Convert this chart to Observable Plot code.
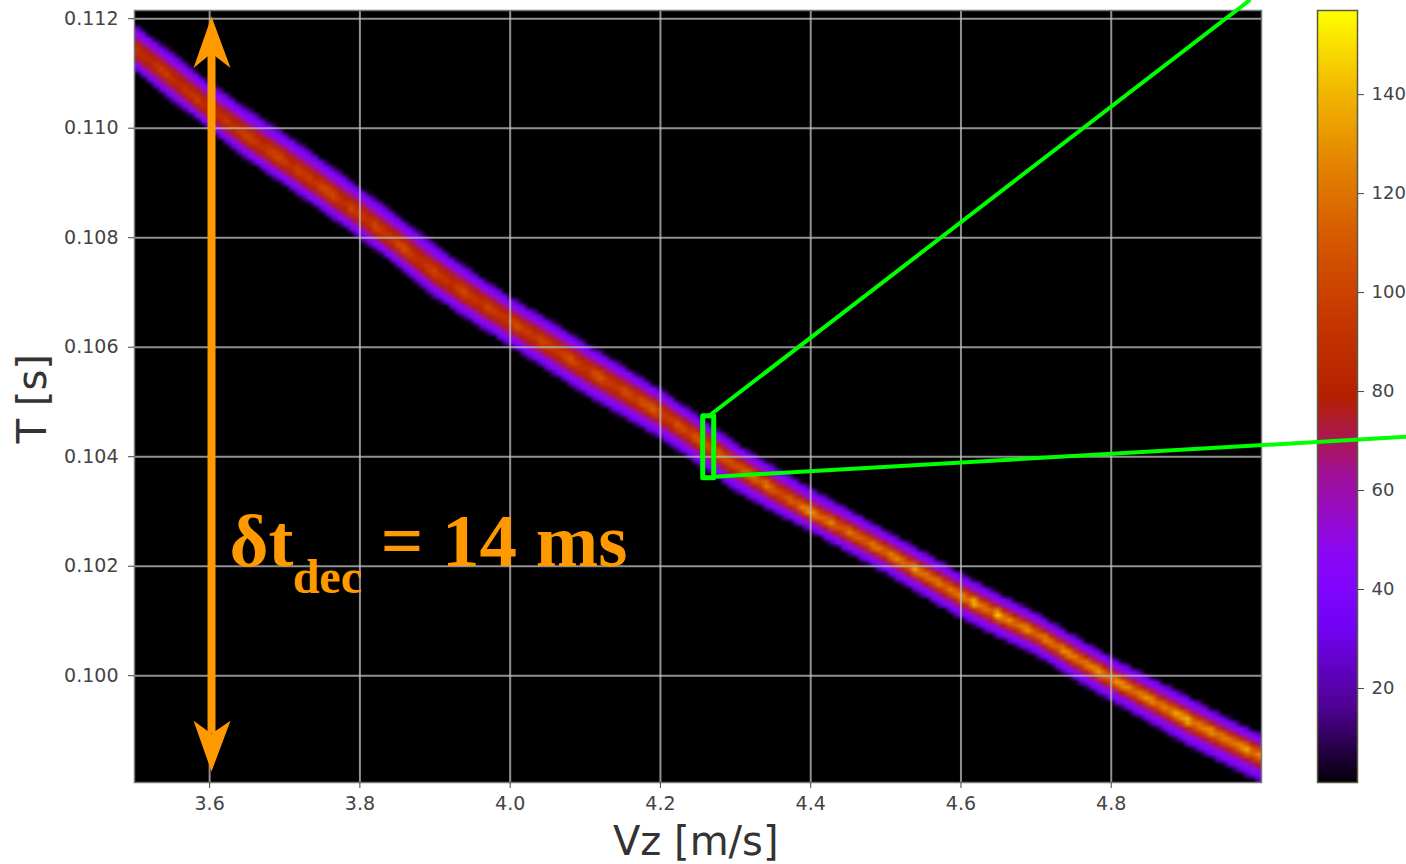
<!DOCTYPE html>
<html><head><meta charset="utf-8">
<style>html,body{margin:0;padding:0;background:#fff}#w{position:relative;width:1406px;height:864px;overflow:hidden}</style>
<script src="https://cdn.jsdelivr.net/npm/d3@7"></script>
<script src="https://cdn.jsdelivr.net/npm/@observablehq/plot@0.6"></script>
</head><body><div id="w"></div>
<script>
const vzTicks=[3.6,3.8,4.0,4.2,4.4,4.6,4.8];
const tTicks=[0.100,0.102,0.104,0.106,0.108,0.110,0.112];
const barTicks=[20,40,60,80,100,120,140];
const colorStops=[0,16.6,32.2,40,47.8,63.4,79,94.6,110.2,125.8,141.4,157];
const colorRange=["#000000","#510196","#7202f3","#8004ff","#8c07f3","#a11096","#b42000","#c63700","#d55700","#e48300","#f2ba00","#ffff00"];
// Ridge of the band, every 0.05 m/s
const vz=[3.5,3.55,3.6,3.65,3.7,3.75,3.8,3.85,3.9,3.95,4.0,4.05,4.1,4.15,4.2,4.25,4.3,4.35,4.4,4.45,4.5,4.55,4.6,4.65,4.7,4.75,4.8,4.85,4.9,4.95,5.0];
const tCenter=[.11145,.11090,.11034,.10984,.10939,.10891,.10842,.10789,.10736,.10690,.10647,.10605,.10561,.10521,.10480,.10433,.10384,.10340,.10298,.10263,.10226,.10186,.10146,.10111,.10077,.10035,.09995,.09958,.09921,.09887,.09854];
const bandAbove=[.00048,.00051,.00053,.00055,.00055,.00055,.00053,.00055,.00055,.00051,.00048,.00050,.00050,.00048,.00046,.00046,.00044,.00046,.00048,.00044,.00042,.00044,.00044,.00042,.00041,.00042,.00042,.00044,.00046,.00042,.00041];
const bandBelow=[.00041,.00042,.00039,.00044,.00046,.00046,.00046,.00044,.00048,.00048,.00048,.00050,.00051,.00051,.00050,.00050,.00050,.00044,.00037,.00041,.00042,.00044,.00044,.00044,.00042,.00044,.00044,.00046,.00050,.00051,.00053];
// Counts on the ridge, one value per 0.01 m/s from 3.50 to 5.00
const peakStep=0.01;
const peak=[96,92,88,94,100,92,88,96,102,94,
90,94,98,92,96,104,98,92,100,106,
98,92,104,100,94,106,108,96,92,104,
98,94,108,100,96,106,110,102,94,100,
106,96,92,102,108,98,94,104,100,96,
104,110,100,96,108,102,98,106,112,100,
96,108,114,102,98,110,106,100,112,116,
104,100,112,108,102,114,110,104,118,112,
106,116,122,110,128,118,108,120,114,126,
134,118,122,130,114,126,120,116,128,122,
118,130,124,116,138,126,120,128,118,124,
134,122,148,126,118,152,130,122,128,136,
120,132,126,118,134,128,122,130,138,124,
118,136,130,122,128,134,120,130,126,138,
146,124,128,136,122,130,126,134,140,122,128];
// Profile across the band: share of the half-width, and value there (peak share for the last two)
const levelFrac=[1,0.9,0.76,0.56,0.36,0.14,0];
const levelValue=[0,22,38,50,76];
const peakShare=[0.9,1];
const arrowX=3.6025, arrowT=[.11137,.09894];
const headUpV=[3.6025,3.6278,3.6025,3.5786,3.6025], headUpT=[.11204,.11110,.11137,.11110,.11204];
const headDownV=[3.6025,3.6278,3.6025,3.5786,3.6025], headDownT=[.09825,.09918,.09894,.09918,.09825];
const boxV=[4.2563,4.2709,4.2709,4.2563,4.2563], boxT=[.104749,.104749,.103617,.103617,.104749];
const zoomA={v:[4.2683,4.9834],t:[.104785,.112329]};
const zoomB={v:[4.2723,5.1937],t:[.103635,.104365]};
const orange="#ff9900", green="#00ff00";

const at=(arr,p)=>{const i=Math.max(0,Math.min(arr.length-2,Math.floor(p)));const u=Math.min(1,p-i);return arr[i]*(1-u)+arr[i+1]*u;};
function countAt(v,t){
  const p=(v-vz[0])/(vz[1]-vz[0]);
  const d=t-at(tCenter,p);
  const f=d>=0?d/at(bandAbove,p):-d/at(bandBelow,p);
  if(f>=1) return 0;
  const pk=peak[Math.min(peak.length-1,Math.round((v-vz[0])/peakStep))];
  const vals=[...levelValue,...peakShare.map(s=>s*pk)];
  for(let j=0;j<levelFrac.length-1;j++){
    if(f<=levelFrac[j]&&f>=levelFrac[j+1]){
      const u=(levelFrac[j]-f)/(levelFrac[j]-levelFrac[j+1]);
      return vals[j]*(1-u)+vals[j+1]*u;
    }
  }
  return pk;
}
const color={type:"linear",domain:colorStops,range:colorRange,interpolate:"rgb",clamp:true};
const pts=(a,b)=>a.map((v,i)=>({v,t:b[i]}));
const bar=Plot.plot({width:1406,height:864,marginLeft:1317,marginRight:49,marginTop:10,marginBottom:82,
  style:{position:"absolute",left:0,top:0,background:"transparent",fontFamily:"DejaVu Sans"},
  x:{domain:[0,1],axis:null},y:{domain:[1,157],axis:null},color,
  marks:[
    Plot.raster({fill:(x,y)=>y,x1:0,x2:1,y1:1,y2:157,width:1,height:772}),
    Plot.frame({stroke:"#5a5a40",strokeWidth:1.5}),
    Plot.axisY(barTicks,{anchor:"right",tickSize:6,tickPadding:8,fontSize:18,stroke:"#444",fill:"#444",label:null})
  ]});
const main=Plot.plot({width:1406,height:864,marginLeft:134,marginRight:145,marginTop:10,marginBottom:82,
  style:{position:"absolute",left:0,top:0,background:"transparent",fontFamily:"DejaVu Sans",overflow:"hidden"},
  x:{domain:[3.5,5.0],axis:null},y:{domain:[.09805,.11215],axis:null},color,
  marks:[
    Plot.frame({fill:"#000"}),
    Plot.raster({fill:countAt,x1:3.5,x2:5.0,y1:.11215,y2:.09805,width:190,height:150}),
    Plot.ruleX(vzTicks,{stroke:"#c0c0c0",strokeWidth:2,strokeOpacity:.75}),
    Plot.ruleY(tTicks,{stroke:"#c0c0c0",strokeWidth:2,strokeOpacity:.75}),
    Plot.frame({stroke:"#777",strokeWidth:1.5}),
    Plot.axisX(vzTicks,{anchor:"bottom",tickSize:6,tickPadding:8,fontSize:19,stroke:"#444",fill:"#444",tickFormat:d3.format(".1f"),label:null}),
    Plot.axisY(tTicks,{anchor:"left",tickSize:6,tickPadding:10,fontSize:19,stroke:"#444",fill:"#444",tickFormat:d3.format(".3f"),label:null}),
    Plot.text(["Vz [m/s]"],{x:4.247,y:.09805,dy:60,fontSize:40,fill:"#333",text:d=>d}),
    Plot.text(["T [s]"],{x:3.5,y:.10506,dx:-101,rotate:-90,fontSize:40,fill:"#333",text:d=>d}),
    Plot.ruleX([arrowX],{y1:arrowT[0],y2:arrowT[1],stroke:orange,strokeWidth:8}),
    Plot.line(pts(headUpV,headUpT),{x:"v",y:"t",fill:orange,stroke:"none"}),
    Plot.line(pts(headDownV,headDownT),{x:"v",y:"t",fill:orange,stroke:"none"}),
    Plot.text(["δt"],{x:3.6265,y:.10245,text:d=>d,textAnchor:"start",fontFamily:"Liberation Serif",fontWeight:"bold",fontSize:75,fill:orange}),
    Plot.text(["dec"],{x:3.7105,y:.10179,text:d=>d,textAnchor:"start",fontFamily:"Liberation Serif",fontWeight:"bold",fontSize:48,fill:orange}),
    Plot.text(["= 14 ms"],{x:3.8276,y:.10245,text:d=>d,textAnchor:"start",fontFamily:"Liberation Serif",fontWeight:"bold",fontSize:75,fill:orange}),
    Plot.line(pts(boxV,boxT),{x:"v",y:"t",stroke:green,strokeWidth:5,strokeLinejoin:"round"}),
    Plot.line(pts(zoomA.v,zoomA.t),{x:"v",y:"t",stroke:green,strokeWidth:4}),
    Plot.line(pts(zoomB.v,zoomB.t),{x:"v",y:"t",stroke:green,strokeWidth:4})
  ]});
document.getElementById("w").append(bar,main);
</script></body></html>
